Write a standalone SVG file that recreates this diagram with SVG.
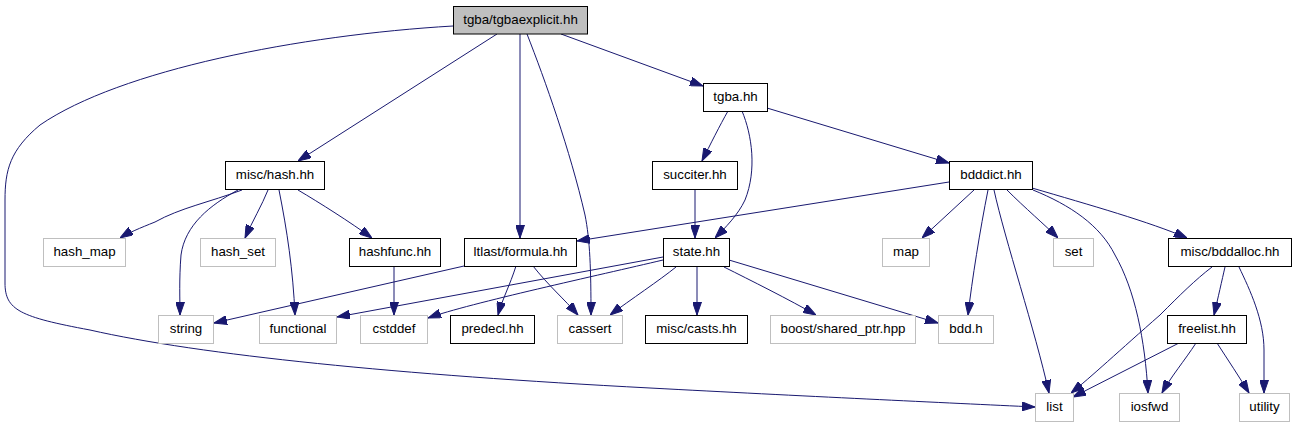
<svg xmlns="http://www.w3.org/2000/svg" width="1296" height="427" viewBox="0 0 1296 427">
<style>
rect{stroke-width:1}
.n rect{fill:#fff;stroke:#000}
.s rect{fill:#fff;stroke:#bfbfbf}
.m rect{fill:#bfbfbf;stroke:#000}
text{font-family:"Liberation Sans",Arial,sans-serif;font-size:13.3px;fill:#000;text-anchor:middle}
#edges path{fill:none;stroke:#191970;stroke-width:1;marker-end:url(#ah)}
</style>
<defs>
<marker id="ah" markerUnits="userSpaceOnUse" markerWidth="13" markerHeight="9" refX="13" refY="4.5" orient="auto">
<path d="M0,0 L13,4.5 L0,9 z" fill="#191970" stroke="#191970" stroke-width="1"/>
</marker>
</defs>
<rect width="1296" height="427" fill="#fff"/>
<g id="edges">
<path d="M453,26 C300,35 120,70 40,125 C10,150 5,170 5,200 L5,283 C5,310 20,317 90,330 C200,355 400,375 650,388 C800,396 950,403 1035,407"/>
<path d="M497,34 L298,161"/>
<path d="M520,34 L520,238"/>
<path d="M527,34 C545,80 570,150 585,215 C590,240 591,270 591,315"/>
<path d="M561,34 L703,86"/>
<path d="M728,111 C720,125 710,145 702,161"/>
<path d="M742,111 C752,135 757,170 745,200 C738,215 725,228 715,238"/>
<path d="M767,108 L949,163"/>
<path d="M242,190 C210,202 180,208 155,222 C140,228 128,233 120,238"/>
<path d="M268,190 C262,205 252,222 245,238"/>
<path d="M238,190 C210,205 185,225 181,255 C179,280 180,300 180,315"/>
<path d="M279,190 C287,230 293,270 295,315"/>
<path d="M298,190 C320,203 350,222 372,238"/>
<path d="M394,266 L394,315"/>
<path d="M464,266 L214,323"/>
<path d="M516,266 C510,285 502,300 498,315"/>
<path d="M533,266 C548,285 565,300 578,315"/>
<path d="M949,182 L577,241"/>
<path d="M663,257 L337,317"/>
<path d="M663,260 C600,275 470,303 428,318"/>
<path d="M676,267 C660,280 630,300 610,315"/>
<path d="M697,266 L697,315"/>
<path d="M724,267 C750,280 790,300 816,315"/>
<path d="M729,260 L938,323"/>
<path d="M695,189 L695,238"/>
<path d="M974,190 L922,238"/>
<path d="M1007,190 C1025,208 1045,225 1058,238"/>
<path d="M988,190 C980,230 972,280 968,315"/>
<path d="M994,190 C1005,240 1035,330 1049,393"/>
<path d="M1033,190 C1070,205 1100,225 1115,255 C1135,290 1145,340 1148,393"/>
<path d="M1032,188 C1090,205 1150,222 1187,238"/>
<path d="M1212,267 C1195,280 1180,295 1160,315 C1120,350 1090,378 1071,393"/>
<path d="M1225,267 C1222,280 1218,298 1214,315"/>
<path d="M1239,267 C1250,290 1264,320 1264,350 L1264,393"/>
<path d="M1179,343 L1073,397"/>
<path d="M1196,343 C1185,360 1170,378 1162,393"/>
<path d="M1217,343 C1228,360 1240,378 1249,393"/>
</g>
<g id="n_tgbaexplicit" class="m"><rect x="453.5" y="6.5" width="134" height="27.5"/><text x="520.5" y="23.5">tgba/tgbaexplicit.hh</text></g>
<g id="n_tgba" class="n"><rect x="703.5" y="83.5" width="64" height="28"/><text x="735.5" y="101">tgba.hh</text></g>
<g id="n_misc_hash" class="n"><rect x="225.5" y="161.5" width="99" height="28"/><text x="275" y="178.5">misc/hash.hh</text></g>
<g id="n_succiter" class="n"><rect x="652.5" y="161.5" width="85" height="28"/><text x="695" y="178.5">succiter.hh</text></g>
<g id="n_bdddict" class="n"><rect x="949.5" y="161.5" width="83" height="28"/><text x="991" y="178.5">bdddict.hh</text></g>
<g id="n_hash_map" class="s"><rect x="43.5" y="238.5" width="82" height="28"/><text x="84.5" y="255.5">hash_map</text></g>
<g id="n_hash_set" class="s"><rect x="200.5" y="238.5" width="75" height="28"/><text x="238" y="255.5">hash_set</text></g>
<g id="n_hashfunc" class="n"><rect x="349.5" y="238.5" width="91" height="28"/><text x="395" y="255.5">hashfunc.hh</text></g>
<g id="n_formula" class="n"><rect x="464.5" y="238.5" width="112" height="28"/><text x="520.5" y="255.5">ltlast/formula.hh</text></g>
<g id="n_state" class="n"><rect x="663.5" y="238.5" width="66" height="28"/><text x="696.5" y="255.5">state.hh</text></g>
<g id="n_map" class="s"><rect x="882.5" y="238.5" width="47" height="28"/><text x="906" y="255.5">map</text></g>
<g id="n_set" class="s"><rect x="1053.5" y="238.5" width="40" height="28"/><text x="1073.5" y="255.5">set</text></g>
<g id="n_bddalloc" class="n"><rect x="1168.5" y="238.5" width="123" height="28"/><text x="1230" y="255.5">misc/bddalloc.hh</text></g>
<g id="n_string" class="s"><rect x="158.5" y="315.5" width="55" height="28"/><text x="186" y="332.5">string</text></g>
<g id="n_functional" class="s"><rect x="259.5" y="315.5" width="77" height="28"/><text x="298" y="332.5">functional</text></g>
<g id="n_cstddef" class="s"><rect x="360.5" y="315.5" width="67" height="28"/><text x="394" y="332.5">cstddef</text></g>
<g id="n_predecl" class="n"><rect x="450.5" y="315.5" width="84" height="28"/><text x="492.5" y="332.5">predecl.hh</text></g>
<g id="n_cassert" class="s"><rect x="557.5" y="315.5" width="65" height="28"/><text x="590" y="332.5">cassert</text></g>
<g id="n_casts" class="n"><rect x="645.5" y="315.5" width="102" height="28"/><text x="696.5" y="332.5">misc/casts.hh</text></g>
<g id="n_shared_ptr" class="s"><rect x="770.5" y="315.5" width="145" height="28"/><text x="843" y="332.5">boost/shared_ptr.hpp</text></g>
<g id="n_bdd" class="s"><rect x="938.5" y="315.5" width="55" height="28"/><text x="966" y="332.5">bdd.h</text></g>
<g id="n_freelist" class="n"><rect x="1167.5" y="315.5" width="79" height="28"/><text x="1207" y="332.5">freelist.hh</text></g>
<g id="n_list" class="s"><rect x="1035.5" y="393.5" width="38" height="28"/><text x="1054.5" y="410.5">list</text></g>
<g id="n_iosfwd" class="s"><rect x="1119.5" y="393.5" width="60" height="28"/><text x="1149.5" y="410.5">iosfwd</text></g>
<g id="n_utility" class="s"><rect x="1239.5" y="393.5" width="50" height="28"/><text x="1264.5" y="410.5">utility</text></g>
</svg>
